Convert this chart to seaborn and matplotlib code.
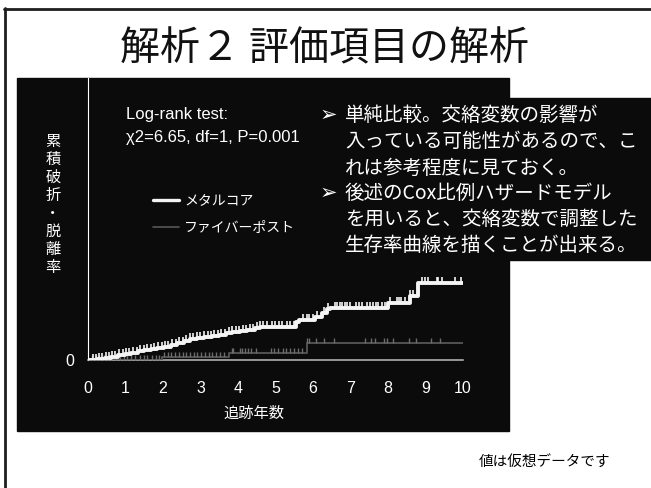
import matplotlib
matplotlib.use("Agg")
import matplotlib.pyplot as plt
from matplotlib.path import Path
from matplotlib.patches import Rectangle
from matplotlib.lines import Line2D
import numpy as np
import pandas as pd
import seaborn as sns

# ---- text ----
title = "解析２ 評価項目の解析"
group_names = ["メタルコア", "ファイバーポスト"]
x_label = "追跡年数"
y_label = "累積破折・脱離率"
x_ticks = [0, 1, 2, 3, 4, 5, 6, 7, 8, 9, 10]
y_ticks = [0]
y_tick_labels = ["0"]
test_text = ["Log-rank test:", "χ2=6.65, df=1, P=0.001"]
note_items = [
    ["単純比較。交絡変数の影響が", "入っている可能性があるので、こ", "れは参考程度に見ておく。"],
    ["後述のCox比例ハザードモデル", "を用いると、交絡変数で調整した", "生存率曲線を描くことが出来る。"],
]
footnote = "値は仮想データです"

# ---- cumulative failure curves (step start times and levels) ----
metal_time = [0.0, 0.25, 0.45, 0.62, 0.8, 0.98, 1.15, 1.32, 1.5, 1.68, 1.85, 2.02,
              2.2, 2.38, 2.55, 2.72, 2.9, 3.1, 3.3, 3.5, 3.68, 3.85, 4.05, 4.25,
              4.45, 4.6, 5.56, 5.62, 6.05, 6.23, 6.36, 6.45, 8.0, 8.59, 8.81, 10.0]
metal_cum = [0.0, 0.004, 0.008, 0.012, 0.017, 0.021, 0.026, 0.031, 0.035, 0.039, 0.043, 0.047,
             0.053, 0.060, 0.067, 0.074, 0.078, 0.082, 0.086, 0.090, 0.096, 0.101, 0.104, 0.108,
             0.113, 0.118, 0.136, 0.142, 0.154, 0.168, 0.181, 0.185, 0.203, 0.227, 0.272, 0.272]
metal_censor = [0.12, 0.2, 0.3, 0.38, 0.47, 0.55, 0.64, 0.73, 0.83, 0.92, 1.0, 1.1, 1.2,
                1.3, 1.38, 1.48, 1.58, 1.67, 1.76, 1.86, 1.96, 2.05, 2.14, 2.24, 2.34,
                2.43, 2.53, 2.62, 2.72, 2.81, 2.9, 3.0, 3.1, 3.2, 3.28, 3.37, 3.46, 3.56,
                3.66, 3.75, 3.85, 3.94, 4.04, 4.13, 4.22, 4.32, 4.41, 4.5, 4.6, 4.68,
                4.78, 4.9, 4.99, 5.08, 5.16, 5.3, 5.39, 5.48, 5.74, 5.83, 5.9, 5.99,
                6.1, 6.28, 6.41, 6.59, 6.64, 6.72, 6.78, 6.85, 6.92, 6.99, 7.15, 7.23,
                7.32, 7.43, 7.52, 7.61, 7.68, 7.74, 7.83, 7.92, 8.05, 8.23, 8.3, 8.36,
                8.45, 8.59, 8.66, 8.9, 8.99, 9.07, 9.3, 9.34, 9.43, 9.79, 9.96]

fiber_time = [0.0, 1.97, 3.75, 5.84, 10.0]
fiber_cum = [0.0, 0.011, 0.025, 0.059, 0.059]
fiber_censor = [0.1, 0.2, 0.3, 0.42, 0.52, 0.62, 0.75, 0.85, 0.95, 1.05, 1.15, 1.25,
                1.38, 1.48, 1.58, 1.7, 1.8, 1.9, 2.03, 2.12, 2.22, 2.32, 2.42, 2.52,
                2.62, 2.72, 2.82, 2.92, 3.02, 3.12, 3.22, 3.32, 3.42, 3.52, 3.62, 3.83,
                3.87, 4.05, 4.12, 4.19, 4.27, 4.36, 4.47, 4.89, 4.97, 5.06, 5.19, 5.28,
                5.39, 5.5, 5.59, 5.7, 5.85, 5.9, 6.07, 6.3, 6.57, 7.4, 7.56, 7.65, 7.89,
                7.98, 8.14, 8.57, 8.74, 9.15, 9.4]

# ---- style ----
sns.set_style("white")
plt.rcParams["font.family"] = ["Liberation Sans", "Noto Sans CJK JP", "DejaVu Sans"]

W, H = 651, 488
PANEL = "#0b0b0b"
METAL_COLOR = "#f4f4f4"
FIBER_COLOR = "#575757"
FIBER_TICK = "#6c6c6c"
AXIS_GRAY = "#bdbdbd"


def fx(px):
    return px / W


def fy(py):
    return 1 - py / H


def level_at(times, cums, t):
    idx = np.searchsorted(np.asarray(times), np.asarray(t), side="right") - 1
    return np.asarray(cums)[idx]


fig = plt.figure(figsize=(W / 100, H / 100), dpi=100)
fig.patch.set_facecolor("white")

# slide frame
fig.add_artist(Line2D([fx(5.3), fx(5.3)], [fy(8), 0], color="#1e1e1e", lw=2.0,
                      transform=fig.transFigure))
fig.add_artist(Line2D([fx(4.3), 1], [fy(9), fy(9)], color="#1e1e1e", lw=2.0,
                      transform=fig.transFigure))

# dark panels behind the chart and the notes
fig.add_artist(Rectangle((fx(17), fy(431)), fx(509) - fx(17), fy(78) - fy(431),
                         transform=fig.transFigure, color=PANEL, zorder=-2))
fig.add_artist(Rectangle((fx(300), fy(260)), fx(651) - fx(300), fy(98) - fy(260),
                         transform=fig.transFigure, color=PANEL, zorder=-2))

fig.text(fx(325), fy(49), title, ha="center", va="center", fontsize=28.8, color="#111111",
         family=["Noto Sans CJK JP", "DejaVu Sans"])

ax = fig.add_axes([fx(88), fy(360), fx(463) - fx(88), fy(78) - fy(360)])
ax.set_facecolor("none")

metal_df = pd.DataFrame({"year": metal_time, "cum": metal_cum})
fiber_df = pd.DataFrame({"year": fiber_time, "cum": fiber_cum})

sns.lineplot(data=fiber_df, x="year", y="cum", estimator=None, drawstyle="steps-post",
             color=FIBER_COLOR, linewidth=1.3, ax=ax, zorder=3, legend=False)
sns.lineplot(data=metal_df, x="year", y="cum", estimator=None, drawstyle="steps-post",
             color=METAL_COLOR, linewidth=2.8, ax=ax, zorder=5, legend=False)

# censoring marks: short upward strokes on the curve
tick_mark = Path([(0, 0), (0, 1)])
sns.scatterplot(x=fiber_censor, y=level_at(fiber_time, fiber_cum, fiber_censor),
                marker=tick_mark, s=55, color=FIBER_TICK, edgecolor=FIBER_TICK,
                linewidth=1.0, ax=ax, zorder=4, legend=False)
sns.scatterplot(x=metal_censor, y=level_at(metal_time, metal_cum, metal_censor),
                marker=tick_mark, s=85, color=METAL_COLOR, edgecolor=METAL_COLOR,
                linewidth=1.2, ax=ax, zorder=6, legend=False)

ax.set_xlim(0, 10)
ax.set_ylim(0, 1)
ax.set_xticks(x_ticks)
ax.set_xticklabels([str(v) for v in x_ticks])
ax.set_yticks(y_ticks)
ax.set_yticklabels(y_tick_labels)
for side in ("top", "right"):
    ax.spines[side].set_visible(False)
ax.spines["left"].set_color("white")
ax.spines["left"].set_linewidth(0.8)
ax.spines["bottom"].set_color(AXIS_GRAY)
ax.spines["bottom"].set_linewidth(1.1)
ax.tick_params(axis="x", direction="in", length=5, width=1, color=AXIS_GRAY,
               labelcolor="white", labelsize=11.5, pad=15)
ax.tick_params(axis="y", length=0, labelcolor="white", labelsize=11.5, pad=10)
ax.grid(False)

ax.set_xlabel(x_label, fontsize=11, color="white")
ax.set_ylabel("")
ax.xaxis.set_label_coords((254 - 88) / 375, (360 - 414) / 282)
ax.xaxis.label.set_va("center")

# vertical stacked y label
for i, ch in enumerate(y_label):
    fig.text(fx(53), fy(142 + i * 18), ch, ha="center", va="center", fontsize=11,
             color="white")

# log-rank result
fig.text(fx(126), fy(115), test_text[0], ha="left", va="center", fontsize=12, color="white")
fig.text(fx(126), fy(137), test_text[1], ha="left", va="center", fontsize=12, color="white")

# legend
handles = [Line2D([], [], color=METAL_COLOR, lw=2.4),
           Line2D([], [], color=FIBER_COLOR, lw=1.2)]
ax.legend(handles, group_names, loc="center left", bbox_to_anchor=(fx(153), fy(214.5)),
          bbox_transform=fig.transFigure, frameon=False, fontsize=10, labelcolor="white",
          handlelength=1.87, handletextpad=0.36, labelspacing=0.95, borderpad=0,
          borderaxespad=0)

# notes on the right
line_y = [115, 142, 168, 193, 219, 245]
k = 0
for item in note_items:
    for j, line in enumerate(item):
        if j == 0:
            fig.text(fx(320), fy(line_y[k]), "➢", ha="left", va="center", fontsize=15,
                     color="white", family=["DejaVu Sans"])
        fig.text(fx(345), fy(line_y[k]), line, ha="left", va="center", fontsize=14,
                 color="white", family=["Noto Sans CJK JP", "DejaVu Sans"])
        k += 1

fig.text(fx(545), fy(462), footnote, ha="center", va="center", fontsize=10.5,
         color="black", family=["Noto Sans CJK JP", "DejaVu Sans"])

fig.savefig("out.png", dpi=100, facecolor="white")
